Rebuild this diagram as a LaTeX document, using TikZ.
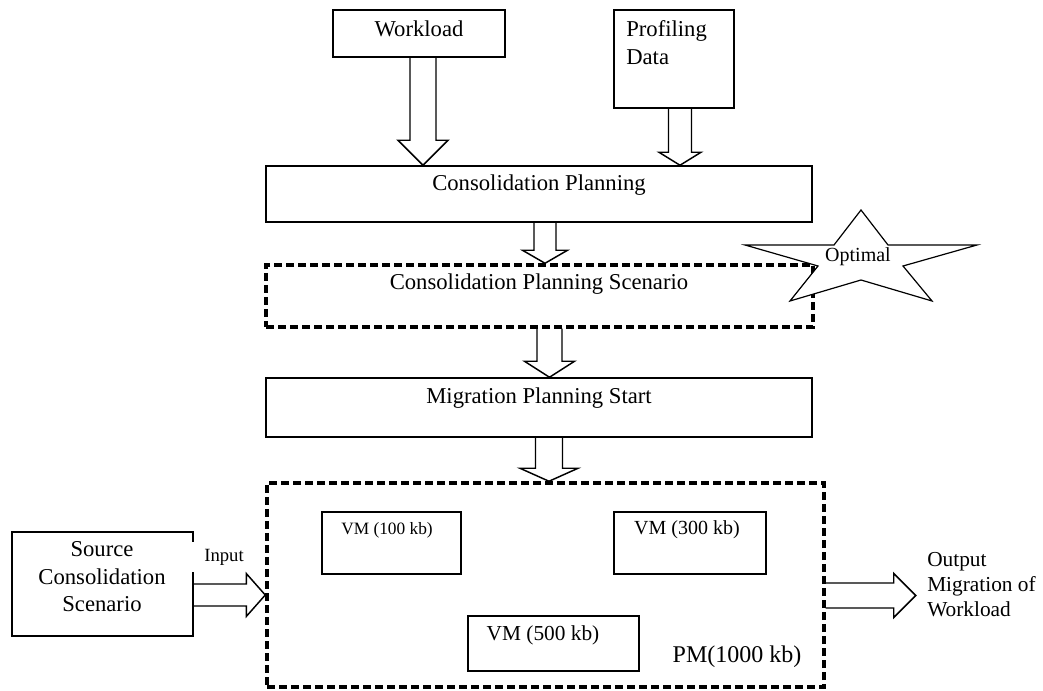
\documentclass[tikz,border=0pt]{standalone}
\usepackage{fontspec}
\setmainfont{Liberation Serif}
\usetikzlibrary{calc,fit}

% block arrow pointing down: start, tip, shaft half-width, head half-width, head length
\newcommand\arrdown[5]{%
  \draw[blockarrow] ($(#1)+(-#3,0)$) -- ($(#2)+(-#3,-#5)$) -- ($(#2)+(-#4,-#5)$)
    -- (#2) -- ($(#2)+(#4,-#5)$) -- ($(#2)+(#3,-#5)$) -- ($(#1)+(#3,0)$);}
% block arrow pointing right: start, tip, shaft half-width, head half-width, head length
\newcommand\arrright[5]{%
  \draw[blockarrow] ($(#1)+(0,-#3)$) -- ($(#2)+(-#5,-#3)$) -- ($(#2)+(-#5,-#4)$)
    -- (#2) -- ($(#2)+(-#5,#4)$) -- ($(#2)+(-#5,#3)$) -- ($(#1)+(0,#3)$);}

\begin{document}
\begin{tikzpicture}[x=0.75pt,y=-0.75pt,
  boxline/.style={draw,line width=1.1pt,inner sep=0pt},
  dashbox/.style={draw,line width=2.6pt,dash pattern=on 6pt off 3pt,inner sep=0pt},
  txt/.style={inner sep=0pt,font=\fontsize{17}{21}\selectfont},
  blockarrow/.style={draw,line width=1.1pt,line join=miter},
  starline/.style={draw,line width=0.9pt,fill=white,line join=miter},
]
\useasboundingbox (0,0) rectangle (1043,691);

% boxes
\node[boxline,fit={(333,10)(505,57)}] (wl) {};
\node[boxline,fit={(614,10)(734,108)}] (pd) {};
\node[boxline,fit={(266,166)(812,222)}] (cp) {};
\node[dashbox,fit={(266,265)(813,327)}] (cps) {};
\node[boxline,fit={(266,378)(812,437)}] (mps) {};
\node[dashbox,fit={(267,483)(824,687)}] (pm) {};
\node[boxline,fit={(12,532)(193,636)}] (src) {};
\node[boxline,fit={(322,512)(461,574)}] (vma) {};
\node[boxline,fit={(614,512)(766,574)}] (vmb) {};
\node[boxline,fit={(468,616)(639,671)}] (vmc) {};

% star over the scenario box corner
\draw[starline] (861,210) -- (888,245) -- (977,245) -- (903,266) -- (932,301)
  -- (861,280) -- (790,301) -- (818,266) -- (745,245) -- (834,245) -- cycle;

% labels
\node[txt] (wlt) at (419,29) {Workload};
\node[txt,anchor=west,align=left] (pdt) at (626,43) {Profiling\\Data};
\node[txt] (cpt) at (539,185) {Consolidation Planning};
\node[txt] (cpst) at (539,284) {Consolidation Planning Scenario};
\node[txt,font=\fontsize{15}{18}\selectfont] (opt) at (858,257) {Optimal};
\node[txt] (mpst) at (539,398) {Migration Planning Start};
\node[txt,align=center,font=\fontsize{17}{20.6}\selectfont] (srct) at (102,577) {Source\\Consolidation\\Scenario};
\node[fill=white,inner sep=0pt,minimum width=51pt,minimum height=22pt,
      font=\fontsize{14}{17}\selectfont] (inl) at (224,557) {Input};
\node[txt,font=\fontsize{13}{16}\selectfont] (vmat) at (387,530) {VM (100 kb)};
\node[txt,font=\fontsize{15}{18}\selectfont] (vmbt) at (687,530) {VM (300 kb)};
\node[txt,font=\fontsize{16}{19}\selectfont] (vmct) at (543,635) {VM (500 kb)};
\node[txt,font=\fontsize{18}{21}\selectfont] (pmt) at (737,657) {PM(1000 kb)};
\node[txt,anchor=west,align=left,font=\fontsize{16}{18.75}\selectfont] (outt) at (927,585)
  {Output\\Migration of\\Workload};

% block arrows
\coordinate (a1s) at ($(wl.south)+(4,0)$);
\coordinate (a1t) at (a1s |- cp.north);
\arrdown{a1s}{a1t}{13}{25}{25}
\coordinate (a2s) at ($(pd.south)+(6,0)$);
\coordinate (a2t) at (a2s |- cp.north);
\arrdown{a2s}{a2t}{11.5}{21}{13}
\coordinate (a3s) at ($(cp.south)+(6,0)$);
\coordinate (a3t) at (a3s |- cps.north);
\arrdown{a3s}{a3t}{11}{22.5}{13}
\coordinate (a4s) at ($(cps.south)+(10,0)$);
\coordinate (a4t) at (a4s |- mps.north);
\arrdown{a4s}{a4t}{12.5}{25}{16}
\coordinate (a5s) at ($(mps.south)+(10,0)$);
\coordinate (a5t) at (a5s |- pm.north);
\arrdown{a5s}{a5t}{13.5}{29}{13}
\coordinate (a6s) at ($(src.east)+(0,11)$);
\coordinate (a6t) at (a6s -| pm.west);
\arrright{a6s}{a6t}{11}{21.5}{19}
\coordinate (a7s) at ($(pm.east)+(0,10.5)$);
\coordinate (a7t) at ($(a7s)+(90,0)$);
\arrright{a7s}{a7t}{12.5}{22}{22}
\end{tikzpicture}
\end{document}
